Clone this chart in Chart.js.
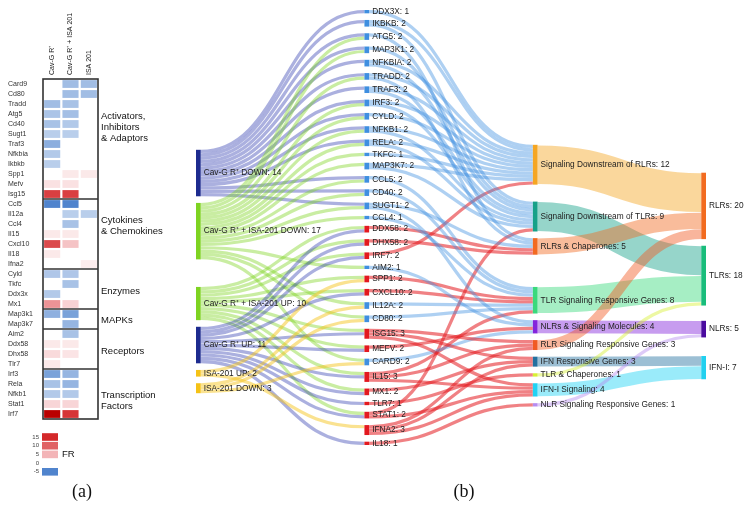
<!DOCTYPE html>
<html><head><meta charset="utf-8">
<script src="https://cdn.jsdelivr.net/npm/chart.js@4.4.0/dist/chart.umd.min.js"></script>
<style>
html,body{margin:0;padding:0;background:#fff;}
#wrap{position:relative;width:751px;height:508px;overflow:hidden;background:#fff;}
#heat{position:absolute;left:0;top:0;}
#sankey{position:absolute;left:190px;top:0;}
</style></head><body>
<div id="wrap"><canvas id="heat" width="190" height="508"></canvas><canvas id="sankey" width="561" height="508"></canvas></div>
<script>
// ---------------- DATA ----------------
const heatGenes = ['Card9','Cd80','Tradd','Atg5','Cd40','Sugt1','Traf3','Nfkbia','Ikbkb','Spp1','Mefv','Isg15','Ccl5','Il12a','Ccl4','Il15','Cxcl10','Il18','Ifna2','Cyld','Tkfc','Ddx3x','Mx1','Map3k1','Map3k7','Aim2','Ddx58','Dhx58','Tlr7','Irf3','Rela','Nfkb1','Stat1','Irf7'];
const heatConditions = ['Cav-G R\u207A','Cav-G R\u207A + ISA 201','ISA 201'];
const frCavG    = [0,0,-2.7,-2.4,-2.5,-2,-3.3,-2.2,-2,0,2,13,-5,0,0,1.5,12,1.5,0,-2.3,0,-2.2,7,-3.2,0,0,1.5,2.5,1.5,-3.8,-2.5,-2.2,2.8,20];
const frCavGIsa = [-2.7,-2.7,-2.5,-2.6,-2.2,-2,0,0,0,1.5,2,13,-5,-2,-2.5,1.5,4,0,0,-2.3,-2.5,0,3,-3.8,-3,-2.5,1.5,1.8,0,-3,-3,-2.2,2.8,14];
const frIsa     = [-2.7,-2.7,0,0,0,0,0,0,0,1.5,0,0,0,-2,0,0,0,0,1.2,0,0,0,0,0,0,0,0,0,0,0,0,0,0,0];
const geneGroups = [['Activators,','Inhibitors','& Adaptors'],['Cytokines','& Chemokines'],['Enzymes'],['MAPKs'],['Receptors'],['Transcription','Factors']];
const geneGroupSizes = [12,7,4,2,4,5];
const legendTicks = [15,10,5,0,-5];

const sankeySources = ['Cav-G R\u207A DOWN','Cav-G R\u207A + ISA-201 DOWN','Cav-G R\u207A + ISA-201 UP','Cav-G R\u207A UP','ISA-201 UP','ISA-201 DOWN'];
const sankeySourceCondition = [0,1,1,0,2,2];
const sankeySourceDirection = [-1,-1,1,1,1,-1];
const sankeyGenes = ['DDX3X','IKBKB','ATG5','MAP3K1','NFKBIA','TRADD','TRAF3','IRF3','CYLD','NFKB1','RELA','TKFC','MAP3K7','CCL5','CD40','SUGT1','CCL4','DDX58','DHX58','IRF7','AIM2','SPP1','CXCL10','IL12A','CD80','ISG15','MEFV','CARD9','IL15','MX1','TLR7','STAT1','IFNA2','IL18'];
const sankeyCategories = ['Signaling Downstream of RLRs','Signaling Downstream of TLRs','RLRs & Chaperones','TLR Signaling Responsive Genes','NLRs & Signaling Molecules','RLR Signaling Responsive Genes','IFN Responsive Genes','TLR & Chaperones','IFN-I Signaling','NLR Signaling Responsive Genes'];
const categoryGenes = [
  ['DDX3X','IKBKB','NFKBIA','TRADD','TRAF3','IRF3','CYLD','NFKB1','RELA','TKFC','MAP3K7','IRF7'],
  ['IKBKB','MAP3K1','NFKBIA','TRAF3','IRF3','NFKB1','RELA','MAP3K7','STAT1'],
  ['TRADD','ATG5','SUGT1','DDX58','DHX58'],
  ['CCL5','CD40','CCL4','CXCL10','IL12A','CD80','SPP1','IL15'],
  ['SUGT1','AIM2','MEFV','CARD9'],
  ['ISG15','IL15','IFNA2'],
  ['ISG15','MX1','IFNA2'],
  ['TLR7'],
  ['ISG15','IL15','STAT1','IFNA2'],
  ['IL18']
];
const sankeyClasses = ['RLRs','TLRs','NLRs','IFN-I'];
const categoryClass = ['RLRs','TLRs','RLRs','TLRs','NLRs','RLRs','IFN-I','TLRs','IFN-I','NLRs'];

// ---------------- STYLE / LAYOUT ----------------
const FONT = '"Liberation Sans", Arial, sans-serif';
const FR_STOPS = [-5,0,5,10,15,20];
const FR_RGB = [[80,132,205],[255,255,255],[243,180,183],[224,98,100],[212,40,42],[185,0,0]];
function heatColor(v){
  if (v === 0) return 'rgba(0,0,0,0)';
  v = Math.max(-5, Math.min(20, v));
  let i = 0; while (i < FR_STOPS.length-2 && v > FR_STOPS[i+1]) i++;
  const t = (v-FR_STOPS[i])/(FR_STOPS[i+1]-FR_STOPS[i]);
  const a = FR_RGB[i], b = FR_RGB[i+1];
  return 'rgb(' + a.map((x,k)=>Math.round(x+(b[k]-x)*t)).join(',') + ')';
}
const groupLabelRow = [3.2, 13.6, 20.7, 23.6, 26.7, 31.1];
const conditionColors = ['#1d2b8f','#7ed321','#f5c216'];
const linkColors = ['rgba(45,58,175,0.40)','rgba(126,211,33,0.42)','rgba(245,194,22,0.48)'];
const geneColors = {down:'#3f8fe0', up:'#e3191f'};
const categoryColors = ['#f5a623','#16a189','#f26a21','#39d97c','#8324dc','#f15a24','#23709f','#d7ef33','#20d2f3','#b68cf0'];
const classColors = ['#f26b1f','#19bd7b','#4b0b9f','#21d0ef'];
const LAYOUT = { nodePad: 2, nodeW: 0.028, sourceGaps: [42.1,2,8.3,2,2,2], categoryGaps: [40.6,5.1,2,9.7,2,2,2,2,2,2], classGaps: [49,2,4.6,5.6] };

function rgba(hex, a){
  const n = parseInt(hex.slice(1),16);
  return `rgba(${(n>>16)&255},${(n>>8)&255},${n&255},${a})`;
}

// ---------------- HEATMAP ----------------
const heatSeries = [frCavG, frCavGIsa, frIsa];
const heatPlugin = {
  id: 'heatDecor',
  afterDraw(chart){
    const {ctx, chartArea:a, scales:{x:xs, y:ys}} = chart;
    ctx.save();
    ctx.strokeStyle = '#333'; ctx.lineWidth = 1.6;
    ctx.strokeRect(a.left, a.top, a.right-a.left, a.bottom-a.top);
    let r = 0;
    const half = (ys.getPixelForValue(1)-ys.getPixelForValue(0))/2;
    ctx.font = '9.5px ' + FONT; ctx.fillStyle = '#111'; ctx.textBaseline = 'middle'; ctx.textAlign = 'left';
    geneGroups.forEach((lines, gi) => {
      r += geneGroupSizes[gi];
      if (r < heatGenes.length){
        const y = ys.getPixelForValue(r-1) + half;
        ctx.beginPath(); ctx.moveTo(a.left, y); ctx.lineTo(a.right, y); ctx.stroke();
      }
      const y0 = ys.getPixelForValue(groupLabelRow[gi]);
      lines.forEach((t, li) => ctx.fillText(t, a.right + 3, y0 + li*11));
    });
    ctx.font = '7px ' + FONT; ctx.fillStyle = '#222';
    heatConditions.forEach((t, c) => {
      ctx.save();
      ctx.translate(xs.getPixelForValue(c+0.5), a.top - 4);
      ctx.rotate(-Math.PI/2);
      ctx.textAlign = 'left'; ctx.textBaseline = 'middle';
      ctx.fillText(t, 0, 0);
      ctx.restore();
    });
    legendTicks.forEach((v, i) => {
      const y = 437 + i*8.7;
      ctx.fillStyle = '#444'; ctx.font = '6px ' + FONT; ctx.textAlign = 'right'; ctx.textBaseline = 'middle';
      ctx.fillText(String(v), 39, y);
      if (v !== 0){ ctx.fillStyle = heatColor(v); ctx.fillRect(42, y-3.8, 16, 7.6); }
    });
    ctx.fillStyle = '#111'; ctx.font = '9.5px ' + FONT; ctx.textAlign = 'left';
    ctx.fillText('FR', 62, 454);
    ctx.font = '18px "Liberation Serif", "Times New Roman", serif'; ctx.textAlign = 'center'; ctx.textBaseline = 'alphabetic';
    ctx.fillText('(a)', 82, 497);
    ctx.restore();
  }
};

new Chart(document.getElementById('heat'), {
  type: 'bar',
  data: {
    labels: heatGenes,
    datasets: heatSeries.map((arr, c) => ({
      label: heatConditions[c],
      data: arr.map(() => [c + 0.06, c + 0.94]),
      backgroundColor: arr.map(heatColor),
      borderWidth: 0, barPercentage: 0.78, categoryPercentage: 1, grouped: false
    }))
  },
  options: {
    indexAxis: 'y', responsive: false, animation: false,
    layout: {padding: {left: 8, right: 92, top: 79, bottom: 89}},
    plugins: {legend: {display: false}, tooltip: {enabled: false}},
    scales: {
      x: {type: 'linear', min: 0, max: 3, display: false},
      y: {type: 'category', grid: {display: false}, border: {display: false},
          ticks: {font: {size: 7, family: FONT}, color: '#333', crossAlign: 'far', padding: 0, autoSkip: false},
          afterFit: s => { s.width = 35; }}
    }
  },
  plugins: [heatPlugin]
});

// ---------------- SANKEY ----------------
function buildSankey(){
  const mk = (name, col, color, link) => ({name, col, color, link, sourceLinks: [], targetLinks: []});
  const src = sankeySources.map((n,i) => mk(n, 0, conditionColors[sankeySourceCondition[i]], linkColors[sankeySourceCondition[i]]));
  const genes = sankeyGenes.map(n => mk(n, 1, null, null));
  const cats = sankeyCategories.map((n,i) => mk(n, 2, categoryColors[i], rgba(categoryColors[i], 0.45)));
  const cls = sankeyClasses.map((n,i) => mk(n, 3, classColors[i], null));
  const links = [];
  const add = (s, t, v) => { const l = {source: s, target: t, value: v}; s.sourceLinks.push(l); t.targetLinks.push(l); links.push(l); };
  sankeySources.forEach((_, i) => {
    const arr = heatSeries[sankeySourceCondition[i]];
    heatGenes.forEach((g, gi) => {
      const v = arr[gi];
      if (v !== 0 && Math.sign(v) === sankeySourceDirection[i]){
        const t = genes.find(n => n.name === g.toUpperCase());
        const down = sankeySourceDirection[i] < 0;
        t.color = down ? geneColors.down : geneColors.up;
        t.link = down ? rgba(geneColors.down, 0.42) : rgba(geneColors.up, 0.55);
        add(src[i], t, 1);
      }
    });
  });
  categoryGenes.forEach((list, ci) => list.forEach(g => add(genes.find(n => n.name === g), cats[ci], 1)));
  cats.forEach((c, ci) => add(c, cls[sankeyClasses.indexOf(categoryClass[ci])], c.targetLinks.length));
  const all = [...src, ...genes, ...cats, ...cls];
  all.forEach(n => {
    const vin = n.targetLinks.reduce((s,l)=>s+l.value,0), vout = n.sourceLinks.reduce((s,l)=>s+l.value,0);
    n.value = Math.max(vin, vout);
  });
  const place = (nodes, gaps) => { let y = 0; nodes.forEach((n,i) => { y += gaps ? gaps[i] : (i ? LAYOUT.nodePad : 0); n.y0 = y; n.y1 = y + n.value; y = n.y1; }); };
  place(src, LAYOUT.sourceGaps); place(genes, null); place(cats, LAYOUT.categoryGaps); place(cls, LAYOUT.classGaps);
  all.forEach(n => {
    let y = n.y0;
    n.sourceLinks.slice().sort((a,b)=>a.target.y0-b.target.y0).forEach(l => { l.sy = y; y += l.value; });
    y = n.y0;
    n.targetLinks.slice().sort((a,b)=>a.source.y0-b.source.y0).forEach(l => { l.ty = y; y += l.value; });
  });
  return {nodes: all, links};
}

const sankeyPlugin = {
  id: 'sankeyDraw',
  afterDatasetsDraw(chart){
    const {ctx, scales:{x:xs, y:ys}} = chart;
    const {nodes, links} = buildSankey();
    const ky = Math.abs(ys.getPixelForValue(1) - ys.getPixelForValue(0));
    ctx.save();
    links.forEach(l => {
      const x0 = xs.getPixelForValue(l.source.col + LAYOUT.nodeW), x1 = xs.getPixelForValue(l.target.col);
      const y0 = ys.getPixelForValue(l.sy + l.value/2), y1 = ys.getPixelForValue(l.ty + l.value/2);
      const xm = (x0 + x1)/2;
      ctx.beginPath(); ctx.moveTo(x0, y0); ctx.bezierCurveTo(xm, y0, xm, y1, x1, y1);
      ctx.strokeStyle = l.source.link; ctx.lineWidth = ky * l.value * 0.97;
      ctx.stroke();
    });
    nodes.forEach(n => {
      const x0 = xs.getPixelForValue(n.col), x1 = xs.getPixelForValue(n.col + LAYOUT.nodeW);
      const y0 = ys.getPixelForValue(n.y0), y1 = ys.getPixelForValue(n.y1);
      ctx.fillStyle = n.color; ctx.fillRect(x0, y0, x1-x0, y1-y0);
    });
    ctx.font = '8.3px ' + FONT; ctx.fillStyle = '#222'; ctx.textBaseline = 'middle'; ctx.textAlign = 'left';
    nodes.forEach(n => {
      const x = xs.getPixelForValue(n.col + LAYOUT.nodeW) + 3;
      ctx.fillText(n.name + ': ' + n.value, x, ys.getPixelForValue((n.y0 + n.y1)/2));
    });
    ctx.font = '18px "Liberation Serif", "Times New Roman", serif'; ctx.textAlign = 'center'; ctx.textBaseline = 'alphabetic';
    ctx.fillStyle = '#111';
    ctx.fillText('(b)', 274, 497);
    ctx.restore();
  }
};

new Chart(document.getElementById('sankey'), {
  type: 'scatter',
  data: {datasets: [{data: [], pointRadius: 0}]},
  options: {
    responsive: false, animation: false,
    layout: {padding: {left: 6, right: 45, top: 10, bottom: 63}},
    plugins: {legend: {display: false}, tooltip: {enabled: false}},
    scales: {
      x: {type: 'linear', min: 0, max: 3 + LAYOUT.nodeW, display: false},
      y: {type: 'linear', min: 0, max: 131, reverse: true, display: false}
    }
  },
  plugins: [sankeyPlugin]
});
</script>
</body></html>
